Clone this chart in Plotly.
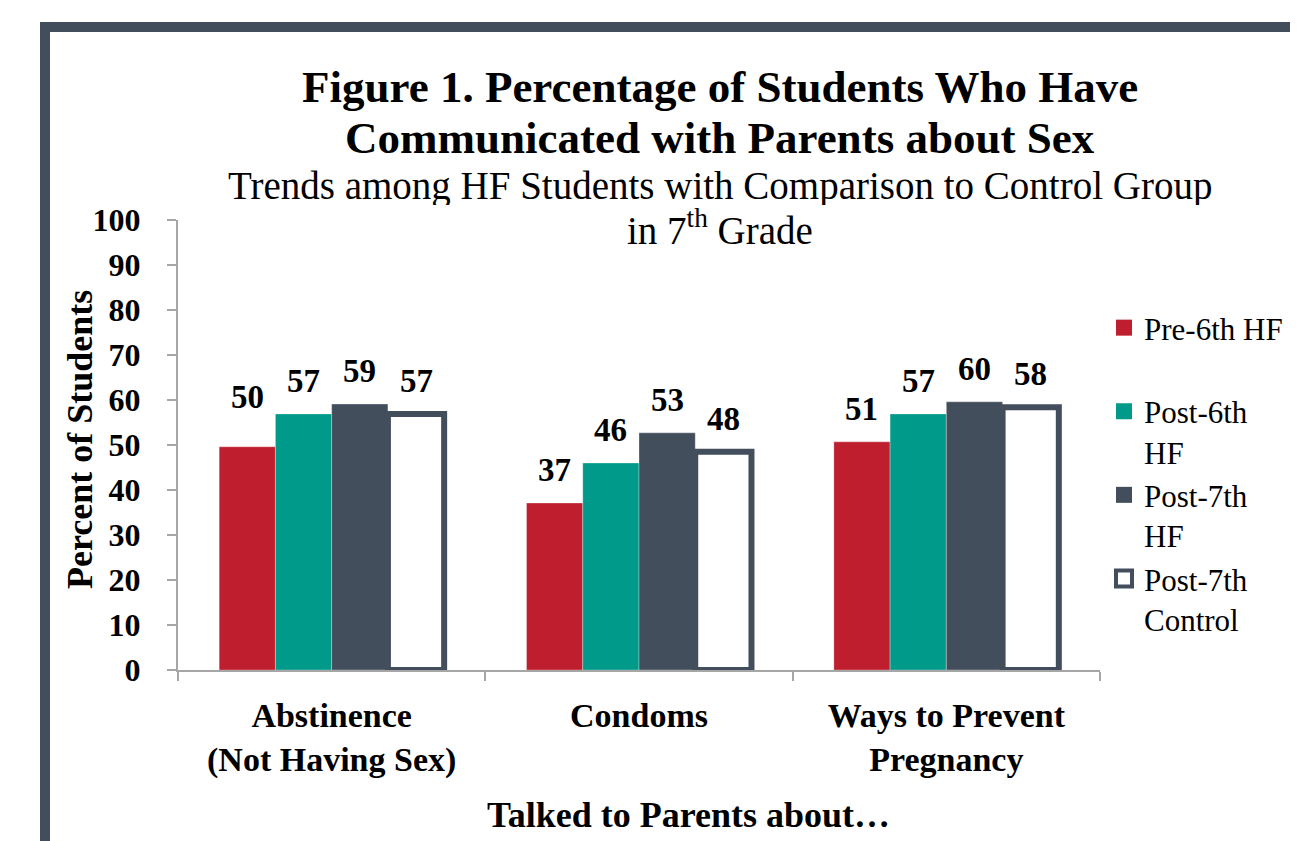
import plotly.graph_objects as go

categories = ["Abstinence<br>(Not Having Sex)", "Condoms", "Ways to Prevent<br>Pregnancy"]
series_names = ["Pre-6th HF<br> ", "Post-6th<br>HF", "Post-7th<br>HF", "Post-7th<br>Control"]
pre6 = [49.6, 37.1, 50.7]
post6 = [56.9, 46.0, 56.9]
post7 = [59.1, 52.7, 59.6]
control = [56.9, 48.5, 58.4]
series_values = [pre6, post6, post7, control]
y_ticks = [0, 10, 20, 30, 40, 50, 60, 70, 80, 90, 100]
title_lines = ["Figure 1. Percentage of Students Who Have", "Communicated with Parents about Sex"]
subtitle_lines = ["Trends among HF Students with Comparison to Control Group", "in 7<sup>th</sup> Grade"]

RED = "#BE1E2D"
TEAL = "#009A8A"
SLATE = "#434E5C"
WHITE = "#FFFFFF"
fills = [RED, TEAL, SLATE, WHITE]
FONT = "Liberation Serif"

OFF = 8  # page body margin
W, H = 1298 - OFF, 841 - OFF
ML, MR, MT, MB = 178 - OFF, 198, 220 - OFF, 171
PW = W - ML - MR
PH = H - MT - MB
BARGAP = 0.268

def px_x(px):
    return (px - OFF - ML) / PW

def px_y(py):
    return (H - MB - (py - OFF)) / PH

fig = go.Figure()
for name, vals, col in zip(series_names, series_values, fills):
    is_ctrl = col == WHITE
    fig.add_trace(go.Bar(
        x=categories, y=vals, name=name, showlegend=False,
        marker=dict(color=col,
                    line=dict(color=SLATE if is_ctrl else "rgba(255,255,255,0.6)",
                              width=6 if is_ctrl else 0.5)),
    ))
    # legend swatch
    fig.add_trace(go.Scatter(
        x=[None], y=[None], mode="markers", name=name, showlegend=True,
        marker=dict(symbol="square", size=19, color=col,
                    line=dict(color=SLATE if is_ctrl else col, width=4 if is_ctrl else 0)),
    ))

# data labels
catw = PW / len(categories)
barw = catw * (1 - BARGAP) / len(series_names)
extra = [[17, 0, 0], [0, 0, 0], [0, 0, 0], [0, 0, 0]]
for i, vals in enumerate(series_values):
    off = (i - (len(series_names) - 1) / 2) * barw
    for j, (c, v) in enumerate(zip(categories, vals)):
        fig.add_annotation(x=c, y=v, text=f"<b>{v:.0f}</b>", showarrow=False,
                           xshift=off, yshift=33 + extra[i][j], yanchor="middle",
                           font=dict(family=FONT, size=33, color="black"))

# titles
for line, yc in zip(title_lines, [87, 138]):
    fig.add_annotation(xref="paper", yref="paper", x=px_x(720), y=px_y(yc),
                       text=f"<b>{line}</b>", showarrow=False, height=48,
                       xanchor="center", yanchor="middle",
                       font=dict(family=FONT, size=45, color="black"))
for line, yc in zip(subtitle_lines, [186, 227]):
    fig.add_annotation(xref="paper", yref="paper", x=px_x(720), y=px_y(yc),
                       text=line, showarrow=False, height=39,
                       xanchor="center", yanchor="middle",
                       font=dict(family=FONT, size=39, color="black"))
fig.add_annotation(xref="paper", yref="paper", x=px_x(80), y=px_y(440),
                   text="<b>Percent of Students</b>", textangle=-90,
                   showarrow=False, xanchor="center", yanchor="middle",
                   font=dict(family=FONT, size=36, color="black"))
fig.add_annotation(xref="paper", yref="paper", x=px_x(688), y=px_y(815),
                   text="<b>Talked to Parents about…</b>",
                   showarrow=False, xanchor="center", yanchor="middle",
                   font=dict(family=FONT, size=36, color="black"))

# frame
fig.add_shape(type="rect", xref="paper", yref="paper",
              x0=px_x(45), x1=px_x(1700), y0=px_y(1200), y1=px_y(27),
              line=dict(color=SLATE, width=10), fillcolor="rgba(0,0,0,0)", layer="below")

fig.update_layout(
    width=W, height=H,
    margin=dict(l=ML, r=MR, t=MT, b=MB, autoexpand=False),
    paper_bgcolor="white", plot_bgcolor="white",
    barmode="group", bargap=BARGAP, bargroupgap=0,
    font=dict(family=FONT, color="black"),
    showlegend=True,
    legend=dict(x=px_x(1104), y=px_y(301), xanchor="left", yanchor="top",
                font=dict(family=FONT, size=31, color="black"),
                valign="top", itemwidth=30, tracegroupgap=0, itemsizing="trace",
                bgcolor="rgba(0,0,0,0)"),
)
fig.update_xaxes(showline=True, linecolor="#A6A6A6", linewidth=2,
                 ticks="outside", tickson="boundaries", ticklen=9, tickcolor="#A6A6A6", tickwidth=2,
                 tickfont=dict(family=FONT, size=34, color="black"),
                 ticklabelstandoff=14, showgrid=False,
                 tickvals=categories, ticktext=[f"<b>{c}</b>" for c in categories])
fig.update_yaxes(range=[0, 100], tickvals=y_ticks, ticktext=[f"<b>{t}</b>" for t in y_ticks],
                 showline=True, linecolor="#A6A6A6", linewidth=2,
                 ticks="outside", ticklen=9, tickcolor="#A6A6A6", tickwidth=2,
                 tickfont=dict(family=FONT, size=32, color="black"),
                 ticklabelstandoff=20, showgrid=False, zeroline=False)

fig.write_html("out.html")
